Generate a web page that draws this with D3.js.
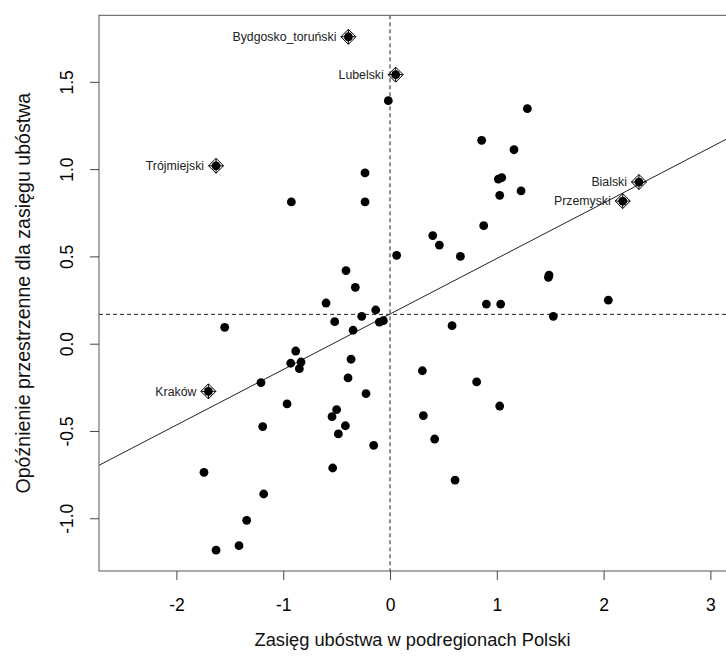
<!DOCTYPE html>
<html>
  <head>
    <meta charset="utf-8">
    <title>Wykres rozrzutu Morana</title>
    <script src="https://cdn.jsdelivr.net/npm/d3@7"></script>
    <style>
      body { margin: 0; background: #fff; }
      svg { display: block; font-family: "Liberation Sans", Arial, sans-serif; }
      .tick text { font-size: 17.5px; fill: #000; }
      .tick line { stroke: #444; }
      .label { font-size: 12.3px; fill: #222; }
      .title { font-size: 18.3px; fill: #111; }
      .ytitle { font-size: 19.6px; fill: #111; }
    </style>
  </head>

  <body>
    <svg id="chart" width="726" height="661"></svg>

    <script>
      // data: standardised poverty (x) and its spatial lag (y)
      xValues = [
        -0.016, -0.234, -0.924, -0.234, 1.286, 0.858, 1.161, 1.014, 1.046, 1.027,
        1.227, 0.877, 0.062, -0.412, -0.325, -0.599, -0.134, -0.265, -0.518, -0.100,
        -0.062, -0.346, -1.548, -0.883, -0.930, -0.833, -0.849, -0.365, -0.393, -1.208,
        -0.225, -0.964, -0.500, -0.543, -1.192, -0.418, -0.484, -0.153, -0.537, -1.742,
        -1.183, -1.342, -1.414, -1.629, 0.400, 0.462, 0.659, 1.489, 1.483, 0.902,
        1.036, 2.044, 1.529, 0.581, 0.303, 0.811, 1.027, 0.312, 0.418, 0.609
      ];
      yValues = [
        1.392, 0.978, 0.812, 0.812, 1.346, 1.165, 1.111, 0.943, 0.951, 0.850,
        0.875, 0.676, 0.506, 0.418, 0.323, 0.233, 0.193, 0.157, 0.126, 0.124,
        0.132, 0.077, 0.094, -0.042, -0.112, -0.105, -0.143, -0.089, -0.196, -0.223,
        -0.286, -0.345, -0.378, -0.418, -0.475, -0.470, -0.517, -0.582, -0.712, -0.737,
        -0.861, -1.012, -1.157, -1.183, 0.619, 0.565, 0.500, 0.393, 0.380, 0.227,
        0.227, 0.249, 0.157, 0.103, -0.155, -0.219, -0.357, -0.412, -0.546, -0.781
      ];

      // influential subregions (labelled)
      namedLabels = ["Bydgosko_toruński", "Lubelski", "Trójmiejski", "Bialski", "Przemyski", "Kraków"];
      namedX = [-0.390, 0.053, -1.629, 2.331, 2.179, -1.701];
      namedY = [1.758, 1.541, 1.019, 0.926, 0.817, -0.273];

      // axis ticks and reference lines
      xTicks = [-2, -1, 0, 1, 2, 3];
      yTicks = [-1.0, -0.5, 0.0, 0.5, 1.0, 1.5];
      meanX = 0;
      meanLag = 0.168;
      moranSlope = 0.318;
      moranIntercept = 0.170;

      xTitle = "Zasięg ubóstwa w podregionach Polski";
      yTitle = "Opóźnienie przestrzenne dla zasięgu ubóstwa";

      // page elements
      svg = d3.select("#chart");
      plotLeft = 99; plotRight = 729; plotTop = 15.3; plotBottom = 571;

      x = d3.scaleLinear().domain([-2.725, 3.174]).range([plotLeft, plotRight]);
      y = d3.scaleLinear().domain([-1.302, 1.881]).range([plotBottom, plotTop]);

      // R-style hyphen minus
      fmtX = function(d) { return d3.format("d")(d).replace("\u2212", "-"); };
      fmtY = function(d) { return d3.format(".1f")(d).replace("\u2212", "-"); };

      points = xValues.map(function(d, i) { return { x: d, y: yValues[i] }; });
      named = namedLabels.map(function(d, i) { return { name: d, x: namedX[i], y: namedY[i] }; });

      plot = svg.append("g");

      plot.append("clipPath").attr("id", "clip")
        .append("rect")
          .attr("x", plotLeft).attr("y", plotTop)
          .attr("width", plotRight - plotLeft).attr("height", plotBottom - plotTop);

      lines = plot.append("g").attr("clip-path", "url(#clip)");

      // regression line
      lines.append("line")
        .attr("x1", x(x.domain()[0]))
        .attr("y1", y(moranIntercept + moranSlope * x.domain()[0]))
        .attr("x2", x(x.domain()[1]))
        .attr("y2", y(moranIntercept + moranSlope * x.domain()[1]))
        .attr("stroke", "#222")
        .attr("stroke-width", 1);

      // mean lines
      lines.append("line")
        .attr("x1", x(meanX)).attr("x2", x(meanX))
        .attr("y1", plotTop).attr("y2", plotBottom)
        .attr("stroke", "#222")
        .attr("stroke-dasharray", "4,3");
      lines.append("line")
        .attr("x1", plotLeft).attr("x2", plotRight)
        .attr("y1", y(meanLag)).attr("y2", y(meanLag))
        .attr("stroke", "#222")
        .attr("stroke-dasharray", "4,3");

      // points
      plot.append("g").selectAll("circle")
        .data(points.concat(named))
        .enter().append("circle")
          .attr("cx", function(d) { return x(d.x); })
          .attr("cy", function(d) { return y(d.y); })
          .attr("r", 4.4)
          .attr("fill", "#000");

      // diamond-plus markers for influential points
      markers = plot.append("g").selectAll("g")
        .data(named)
        .enter().append("g")
          .attr("transform", function(d) { return "translate(" + x(d.x) + "," + y(d.y) + ")"; });
      markers.append("path")
        .attr("d", "M0,-7.5L7.5,0L0,7.5L-7.5,0Z M0,-7.5L0,7.5 M-7.5,0L7.5,0")
        .attr("fill", "none")
        .attr("stroke", "#000")
        .attr("stroke-width", 1);
      markers.append("text")
        .classed("label", true)
        .attr("x", -12)
        .attr("dy", "0.35em")
        .attr("text-anchor", "end")
        .text(function(d) { return d.name; });

      // box
      plot.append("rect")
        .attr("x", plotLeft).attr("y", plotTop)
        .attr("width", plotRight - plotLeft).attr("height", plotBottom - plotTop)
        .attr("fill", "none")
        .attr("stroke", "#555")
        .attr("stroke-width", 1);

      // axes
      xAxis = svg.append("g")
        .attr("transform", "translate(0," + plotBottom + ")")
        .call(d3.axisBottom(x).tickValues(xTicks).tickSize(9).tickFormat(fmtX));
      xAxis.select(".domain").remove();
      xAxis.selectAll(".tick text")
        .attr("y", 34)
        .attr("dy", "0.35em")
        .attr("font-family", null)
        .attr("font-size", null);

      yAxis = svg.append("g")
        .attr("transform", "translate(" + plotLeft + ",0)")
        .call(d3.axisLeft(y).tickValues(yTicks).tickSize(9).tickFormat(fmtY));
      yAxis.select(".domain").remove();
      yAxis.selectAll(".tick text")
        .attr("x", null)
        .attr("dy", null)
        .attr("font-family", null)
        .attr("font-size", null)
        .attr("text-anchor", "middle")
        .attr("transform", "translate(-32,0) rotate(-90)")
        .attr("dominant-baseline", "central");

      // titles
      svg.append("text")
        .classed("title", true)
        .attr("x", (plotLeft + 726) / 2)
        .attr("y", 640)
        .attr("dy", "0.35em")
        .attr("text-anchor", "middle")
        .text(xTitle);
      svg.append("text")
        .classed("ytitle", true)
        .attr("transform", "translate(23," + ((plotTop + plotBottom) / 2) + ") rotate(-90)")
        .attr("dy", "0.35em")
        .attr("text-anchor", "middle")
        .text(yTitle);
    </script>
  </body>
</html>
